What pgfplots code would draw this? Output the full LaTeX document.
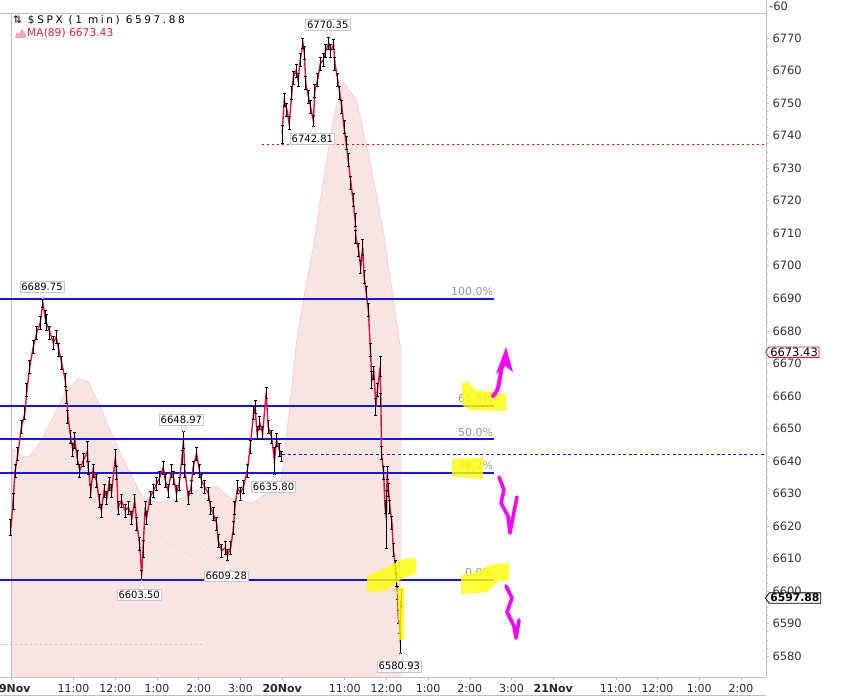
\documentclass[border=0pt]{standalone}
\usepackage{fontspec}
\setmainfont{DejaVu Sans}
\usepackage{pgfplots}
\pgfplotsset{compat=1.18}
\usepackage{pgfplotstable}
\usetikzlibrary{shapes.symbols}

\definecolor{pricered}{RGB}{220,20,60}
\definecolor{mafill}{RGB}{249,228,228}
\definecolor{maline}{RGB}{240,200,205}
\definecolor{fibblue}{RGB}{20,20,240}
\definecolor{axgray}{RGB}{190,190,190}
\definecolor{lblgray}{RGB}{150,150,150}
\definecolor{hl}{RGB}{255,255,0}
\definecolor{mag}{RGB}{255,0,255}
\definecolor{macolor}{RGB}{220,30,70}
\definecolor{iconpink}{RGB}{240,170,180}

% day 1: minute index, close, half range
\pgfplotstableread{
m c e
0 6619.5 2.5
3 6627.5 2.5
6 6637 2
10 6642.3 2
15 6650.4 2
20 6654.7 2
23 6661.8 2
27 6668.9 2
32 6675 2
37 6679.4 2
42 6682.5 2
46 6688.5 1.3
49 6684.3 2
51 6682.5 2.5
56 6679.4 2
61 6676.3 2
65 6678.1 2
69 6674.1 2
73 6670.1 2
78 6664.9 2
80 6659.6 2
82 6653.5 2
86 6647.3 2
89 6643.3 2
92 6646.4 2.5
95 6641.1 2
99 6637.1 2
104 6640.2 2
110 6643 3
111 6638 2
115 6630.9 2
118 6637.1 2
123 6634 2
127 6627.8 2
130 6624.8 2
134 6630.9 2
138 6628.8 2
141 6633.1 2
145 6630.9 2
150 6641 2.5
152 6636.2 2
154 6625.7 2
159 6627.8 2
164 6624.8 2
169 6625.7 2
174 6622.6 2
178 6627.8 2
181 6620.7 2
185 6614.6 2
188 6605 1.5
190 6613 2.5
193 6625.7 2
195 6622.5 2
200 6628.8 2
205 6630.9 2
210 6633.1 2
214 6634.9 2
219 6638 2
222 6634 2
226 6630.9 2
231 6637.1 2
234 6634.9 2
238 6630 2.5
242 6633.1 2
246 6641.1 2
248 6646.4 2.6
250 6637.1 2
255 6628.8 2
259 6631.9 2
262 6638 2
267 6642.3 2
271 6637.1 2
274 6634 2
279 6631.9 2
284 6630 2
287 6625.7 2
291 6623.8 2
296 6620.7 2
298 6615.5 2
303 6612.4 2
308 6613.3 2
311 6611 1.7
316 6613.3 2
320 6619.5 2
322 6625.7 2
326 6631.9 2
330 6630 2
334 6631.9 2
340 6637.1 2
344 6644.2 2
349 6654.7 2
351 6656.5 2
354 6648.5 2
358 6651.6 2
362 6648.5 2
367 6660.9 1.8
370 6650.4 2
375 6647.3 2
379 6640 4.2
382 6646.4 2
386 6643.3 2
389 6641.5 1.5
}\dayone

% day 2
\pgfplotstableread{
m c e
390 6740.5 2.8
393 6750.9 2
397 6747.8 2
400 6743.8 2
404 6753 2
406 6757.9 2
410 6760 2
413 6757 2
416 6763.2 2
420 6768.4 1.5
422 6765.3 2
424 6756.1 2
428 6751.8 2
431 6748.7 2
435 6744.5 1.7
437 6753.9 2
441 6757 2
445 6762.2 2
449 6763.2 2
453 6766.2 2
457 6768.5 1.85
460 6766.2 2
464 6768 1.5
466 6762.2 2
470 6757 2
473 6753 2
476 6748.7 2
479 6742.6 2
482 6737.7 2
485 6732.5 2
489 6725.4 2
492 6720.2 2
495 6714.1 2
496 6708.8 2
500 6704.8 2
503 6699.6 2
506 6705.7 2.5
508 6696.5 2
511 6691.6 2
514 6686.4 2
517 6674.1 2
519 6664.9 2.5
522 6667.1 2
525 6656.6 2.5
527 6661.8 2
531 6669 3
532 6658.8 2
533 6642.5 2
536 6636.4 2
538 6626 2
540 6622 9
541 6636.4 2
543 6631.1 2
545 6626 2
548 6621 2
550 6612.7 2
553 6607.5 2
554 6603.5 2
556 6599.5 2
557 6592.2 2
559 6589.1 2
560 6584 3.1
561 6597.88 2.5
}\daytwo

% MA(89)
\pgfplotstableread{
m v
0 6644
15 6641.5
27 6641.4
42 6645.6
61 6653.5
80 6661.8
97 6665.4
111 6664.3
128 6657.0
148 6646.7
171 6636.4
190 6628.5
210 6627.2
247 6628.7
276 6631.7
296 6632.1
319 6628.1
348 6627.1
368 6630.2
380 6632
389 6634.5
392 6640
401 6656.6
411 6677.2
423 6692.5
435 6705.7
445 6720.1
464 6745.6
478 6756.4
497 6750.9
516 6732.5
536 6710
550 6689.5
561 6673.43
}\ma

% MA(89) area outline (same values, closed to the bottom of the axis)
\pgfplotstableread{
m v
0 6573.6
0 6644
15 6641.5
27 6641.4
42 6645.6
61 6653.5
80 6661.8
97 6665.4
111 6664.3
128 6657.0
148 6646.7
171 6636.4
190 6628.5
210 6627.2
247 6628.7
276 6631.7
296 6632.1
319 6628.1
348 6627.1
368 6630.2
380 6632
389 6634.5
392 6640
401 6656.6
411 6677.2
423 6692.5
435 6705.7
445 6720.1
464 6745.6
478 6756.4
497 6750.9
516 6732.5
536 6710
550 6689.5
561 6673.43
561 6573.6
}\mafillt

\tikzset{pl/.style={draw=black!22, fill=white, text=black, font=\fontsize{10}{11}\selectfont,
  inner xsep=1.5pt, inner ysep=1.6pt, text height=7.4pt, text depth=0.2pt}}
\newcommand{\hilab}[4]{\draw[black!22,fill=white] (axis cs:#1,#2) -- ++(-3.5pt,7pt) -- ++(7pt,0pt) -- cycle;
  \node[pl,anchor=south,yshift=6.6pt,xshift=#4] at (axis cs:#1,#2) {#3};}
\newcommand{\lolab}[5]{\draw[black!22,fill=white] (axis cs:#1,#2) -- ++(-3.5pt,-#5) -- ++(7pt,0pt) -- cycle;
  \node[pl,anchor=north,yshift=-#5+0.4pt,xshift=#4] at (axis cs:#1,#2) {#3};}
\newcommand{\fiblab}[2]{\node[anchor=south east, inner sep=0pt, text=lblgray, font=\fontsize{11}{12}\selectfont, xshift=-1pt, yshift=3pt] at (axis cs:695,#1) {#2};}

\begin{document}
\begin{tikzpicture}
\useasboundingbox (0pt,-20pt) rectangle (853pt,677pt);
\begin{axis}[name=ax, at={(0pt,0pt)}, anchor=south west,
  scale only axis, width=766pt, height=664pt,
  xmin=-15.8, xmax=1086, ymin=6573.6, ymax=6777.7,
  axis x line*=bottom, axis y line*=right,
  axis line style={axgray, line width=0.8pt},
  clip=false,
  tick style={axgray, line width=0.6pt}, tick align=outside,
  major tick length=3pt, minor tick length=2pt,
  xtick={0,90,150,210,270,330,390,480,540,600,660,720,780,870,930,990,1050},
  xticklabels={\textbf{19Nov},11:00,12:00,1:00,2:00,3:00,\textbf{20Nov},11:00,12:00,1:00,2:00,3:00,\textbf{21Nov},11:00,12:00,1:00,2:00},
  xticklabel style={font=\fontsize{11}{12}\selectfont, text=black!85, yshift=-0.5pt},
  ytick={6580,6590,...,6770},
  minor y tick num=3,
  scaled y ticks=false,
  /pgf/number format/1000 sep={},
  /pgf/number format/assume math mode=true,
  yticklabel style={font=\fontsize{11.5}{12}\selectfont, text=black!80},
]
% MA(89) area
\addplot[fill=mafill, draw=none] table[x=m,y=v] {\mafillt};
\addplot[maline, line width=0.6pt] table[x=m,y=v] {\ma};

% frame extras
\draw[axgray, line width=0.8pt] (rel axis cs:0,1) -- (rel axis cs:1,1);
\draw[axgray, line width=0.8pt] (rel axis cs:1,1) -- ++(0pt,13pt);
\draw[axgray, line width=0.8pt] ([yshift=-18pt]rel axis cs:0,0) -- ([yshift=-18pt]rel axis cs:1,0);
\draw[axgray, line width=0.6pt] (axis cs:0,6573.6) -- (axis cs:0,6777.7);

% faint reference lines
\addplot[black!25, dash pattern=on 2pt off 3pt, line width=0.6pt] coordinates {(-15.8,6583.8) (279,6583.8)};
\addplot[black!18, dash pattern=on 1pt off 3pt, line width=0.8pt] coordinates {(99,6647.4) (291,6609.6)};
\addplot[black!18, dash pattern=on 1pt off 3pt, line width=0.8pt] coordinates {(114,6628.1) (291,6607.1)};

% Fibonacci levels
\addplot[fibblue, line width=2pt] coordinates {(-15.8,6689.75) (695,6689.75)};
\addplot[fibblue, line width=2pt] coordinates {(-15.8,6656.80) (695,6656.80)};
\addplot[fibblue, line width=2pt] coordinates {(-15.8,6646.63) (695,6646.63)};
\addplot[fibblue, line width=2pt] coordinates {(-15.8,6636.45) (695,6636.45)};
\addplot[fibblue, line width=2pt] coordinates {(-15.8,6603.50) (695,6603.50)};
\fiblab{6689.75}{100.0\%}
\fiblab{6656.80}{61.8\%}
\fiblab{6646.63}{50.0\%}
\fiblab{6636.45}{38.2\%}
\fiblab{6603.50}{0.0\%}

% horizontal reference lines
\addplot[red, dash pattern=on 2pt off 3pt, line width=1.2pt] coordinates {(361,6737.3) (1086,6737.3)};
\addplot[fibblue, dash pattern=on 3pt off 2.5pt, line width=1.2pt] coordinates {(390,6641.9) (1086,6641.9)};

% price bars
\addplot[pricered, line width=1.4pt] table[x=m,y=c] {\dayone};
\addplot[pricered, line width=1.4pt] table[x=m,y=c] {\daytwo};
\addplot[draw=none, mark=none, error bars/.cd, y dir=both, y explicit,
  error bar style={draw=black, line width=1pt},
  error mark options={draw=black, line width=0.8pt, rotate=90, mark size=1.5pt}] table[x=m,y=c,y error=e] {\dayone};
\addplot[draw=none, mark=none, error bars/.cd, y dir=both, y explicit,
  error bar style={draw=black, line width=1pt},
  error mark options={draw=black, line width=0.8pt, rotate=90, mark size=1.5pt}] table[x=m,y=c,y error=e] {\daytwo};

% high / low labels
\hilab{46}{6689.75}{6689.75}{-1pt}
\hilab{248}{6648.97}{6648.97}{-2pt}
\hilab{457}{6770.35}{6770.35}{-1pt}
\lolab{435}{6742.81}{6742.81}{-1pt}{7pt}
\lolab{379}{6635.80}{6635.80}{-1pt}{7pt}
\lolab{188}{6603.50}{6603.50}{-2.5pt}{10pt}
\lolab{311}{6609.28}{6609.28}{-1pt}{10pt}
\lolab{560}{6580.93}{6580.93}{-1pt}{8pt}

% right axis value flags
\node[signal, signal to=west, signal pointer angle=110, draw=pricered, fill=white, line width=0.8pt,
  font=\fontsize{11.5}{12}\selectfont, inner xsep=1.2pt, inner ysep=1pt, text height=8pt, text depth=0.3pt,
  anchor=west, xshift=-1pt] at (axis cs:1086,6673.43) {6673.43};
\node[signal, signal to=west, signal pointer angle=110, draw=black, fill=white, line width=0.8pt,
  font=\bfseries\fontsize{10.8}{12}\selectfont, inner xsep=1.2pt, inner ysep=1pt, text height=8pt, text depth=0.3pt,
  anchor=west, xshift=-1pt] at (axis cs:1086,6597.88) {6597.88};
\end{axis}

% annotations in picture pixels (origin top-left, y downwards)
\begin{scope}[shift={(0pt,677pt)}, x=1pt, y=-1pt]
\node[anchor=west, inner sep=0pt, font=\fontsize{10.5}{12}\selectfont] at (13,20) {\addfontfeature{LetterSpace=25}⇅ \$SPX (1 min) 6597.88};
\fill[iconpink] (15,38) -- (17,32) -- (19,34) -- (22,29) -- (26,35) -- (26,38) -- cycle;
\node[anchor=west, inner sep=0pt, text=macolor, font=\fontsize{10.7}{12}\selectfont] at (27,33) {MA(89) 6673.43};
\node[anchor=west, inner sep=0pt, text=black!80, font=\fontsize{11.5}{12}\selectfont] at (769,6) {-60};

\begin{scope}[fill opacity=0.8]
\fill[hl] (462,383) -- (468,382) -- (475,390) -- (506,394) -- (506,411) -- (470,410) -- (462,405) -- cycle;
\fill[hl] (452,459) -- (483,458) -- (483,479) -- (470,478) -- (452,476) -- cycle;
\fill[hl] (461,575) -- (475,573) -- (490,565) -- (509,563) -- (509,580) -- (497,582) -- (487,592) -- (461,594) -- cycle;
\fill[hl] (367,576) -- (385,568) -- (403,559) -- (416,558) -- (416,573) -- (400,580) -- (385,591) -- (367,592) -- cycle;
\fill[hl] (397,588) -- (404,587) -- (404,640) -- (399,640) -- cycle;
\end{scope}

\draw[mag, line width=4pt, line cap=round, line join=round] (493,396) .. controls (500,390) and (499,378) .. (503,362);
\fill[mag] (496,374) -- (506,347) -- (513,372) -- (505,366) -- cycle;
\draw[mag, line width=3.6pt, line cap=round, line join=round] (499,477) -- (504,490) -- (501,503) -- (508,516) -- (510,533) -- (514,512) -- (517,497);
\draw[mag, line width=3.6pt, line cap=round, line join=round] (506,586) -- (512,598) -- (507,612) -- (514,626) -- (516,638) -- (519,620);
\end{scope}
\end{tikzpicture}
\end{document}
